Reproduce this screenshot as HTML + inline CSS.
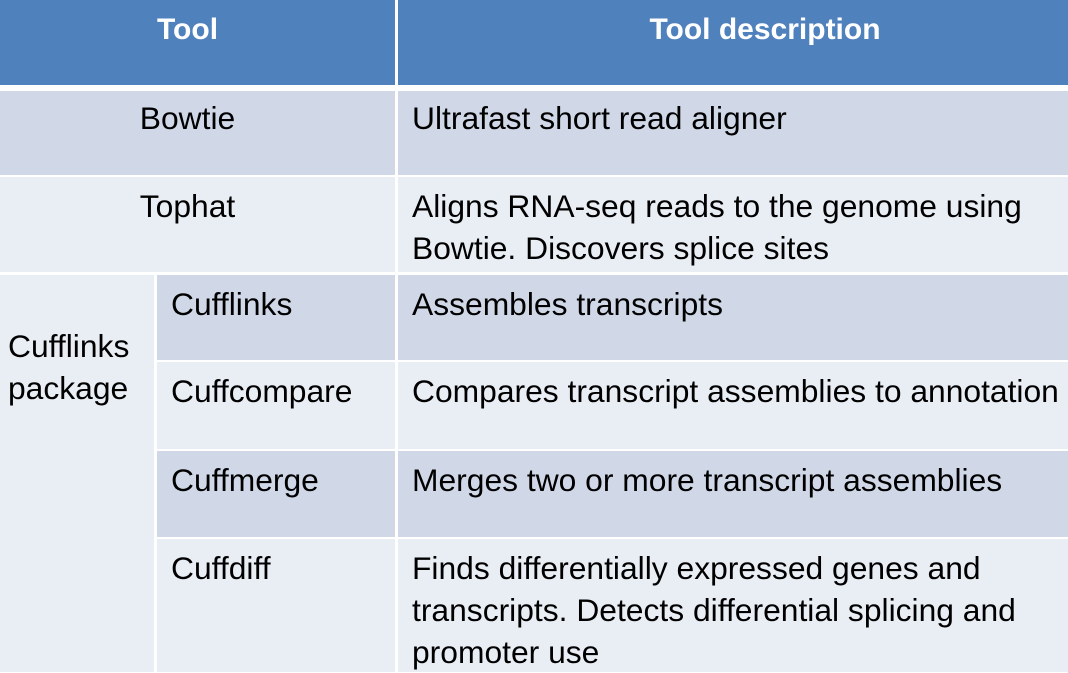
<!DOCTYPE html>
<html><head><style>
body{margin:0;width:1068px;height:672px;overflow:hidden;background:#fff;font-family:"Liberation Sans",sans-serif;}
.c{position:absolute;}
.t{position:absolute;font-size:31.8px;line-height:42px;color:#000;white-space:nowrap;}
.d{background:#D0D8E8}.l{background:#E9EDF4}
</style></head><body>
<div class="c" style="left:0;top:0;width:395px;height:85px;background:#4F81BD"></div>
<div class="c" style="left:398px;top:0;width:670px;height:85px;background:#4F81BD"></div>
<div class="t" style="left:0;width:375px;text-align:center;top:9px;color:#fff;font-weight:bold;font-size:30px">Tool</div>
<div class="t" style="left:398px;width:734px;text-align:center;top:9px;color:#fff;font-weight:bold;font-size:30px">Tool description</div>

<div class="c d" style="left:0;top:91px;width:395px;height:84px"></div>
<div class="c d" style="left:398px;top:91px;width:670px;height:84px"></div>
<div class="c l" style="left:0;top:177px;width:395px;height:95px"></div>
<div class="c l" style="left:398px;top:177px;width:670px;height:95px"></div>

<div class="c l" style="left:0;top:275px;width:154px;height:397px"></div>
<div class="c d" style="left:157px;top:275px;width:238px;height:85px"></div>
<div class="c d" style="left:398px;top:275px;width:670px;height:85px"></div>
<div class="c l" style="left:157px;top:362px;width:238px;height:87px"></div>
<div class="c l" style="left:398px;top:362px;width:670px;height:87px"></div>
<div class="c d" style="left:157px;top:451px;width:238px;height:86px"></div>
<div class="c d" style="left:398px;top:451px;width:670px;height:86px"></div>
<div class="c l" style="left:157px;top:539px;width:238px;height:133px"></div>
<div class="c l" style="left:398px;top:539px;width:670px;height:133px"></div>

<div class="t" style="left:0;width:375px;text-align:center;top:97px">Bowtie</div>
<div class="t" style="left:412px;top:97px">Ultrafast short read aligner</div>
<div class="t" style="left:0;width:375px;text-align:center;top:185px">Tophat</div>
<div class="t" style="left:412px;top:185px">Aligns RNA-seq reads to the genome using<br>Bowtie. Discovers splice sites</div>
<div class="t" style="left:8px;top:325px">Cufflinks<br>package</div>
<div class="t" style="left:171px;top:283px">Cufflinks</div>
<div class="t" style="left:412px;top:283px">Assembles transcripts</div>
<div class="t" style="left:171px;top:370px">Cuffcompare</div>
<div class="t" style="left:412px;top:370px">Compares transcript assemblies to annotation</div>
<div class="t" style="left:171px;top:459px">Cuffmerge</div>
<div class="t" style="left:412px;top:459px">Merges two or more transcript assemblies</div>
<div class="t" style="left:171px;top:547px">Cuffdiff</div>
<div class="t" style="left:412px;top:547px">Finds differentially expressed genes and<br>transcripts. Detects differential splicing and<br>promoter use</div>
</body></html>
